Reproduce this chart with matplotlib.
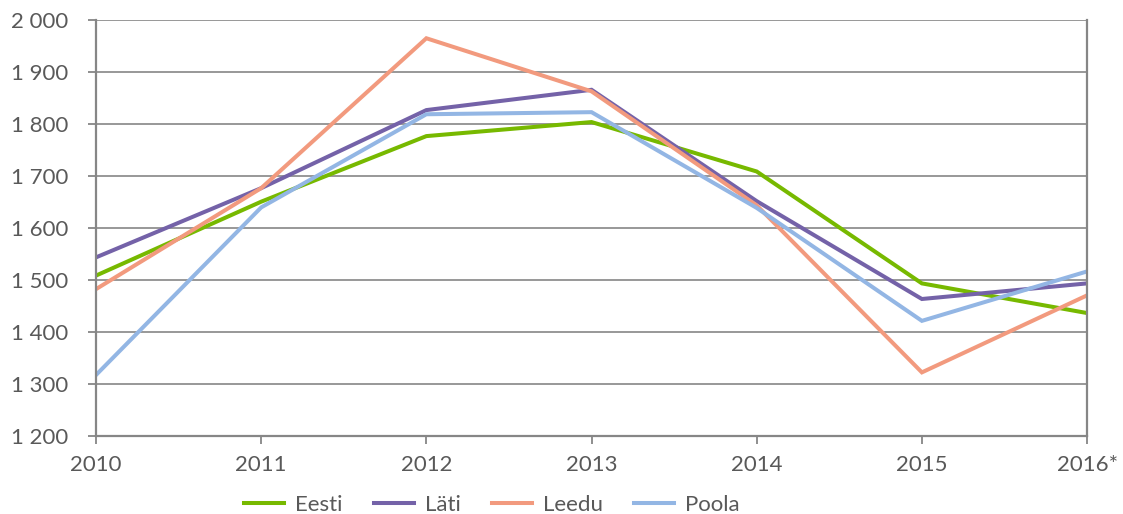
import numpy as np
import matplotlib
matplotlib.use("Agg")
from matplotlib import pyplot as plt
from matplotlib.ticker import FuncFormatter

# years and values per country
years = ["2010", "2011", "2012", "2013", "2014", "2015", "2016*"]
eesti = [1508, 1650, 1776, 1803, 1708, 1493, 1436]
lati = [1543, 1676, 1826, 1865, 1651, 1463, 1493]
leedu = [1482, 1676, 1964, 1862, 1643, 1322, 1470]
poola = [1317, 1639, 1818, 1822, 1638, 1421, 1516]

names = ["Eesti", "Läti", "Leedu", "Poola"]
colors = ["#77B900", "#7462A8", "#F29A7E", "#93B6E4"]
grey = "#868686"

plt.rcParams['font.family'] = ['Lato', 'DejaVu Sans']

fig = plt.figure(figsize=(11.23, 5.14), dpi=100)
ax = fig.add_axes([0.0855, 0.152, 0.8825, 0.81])

x = np.arange(len(years))
for vals, name, c in zip([eesti, lati, leedu, poola], names, colors):
    ax.plot(x, vals, color=c, lw=2.9, label=name, solid_joinstyle='miter')

ax.set_xlim(0, len(years) - 1)
ax.set_ylim(1200, 2000)
ax.set_xticks(x)
ax.set_xticklabels(years)
ax.set_yticks(np.arange(1200, 2001, 100))
ax.yaxis.set_major_formatter(FuncFormatter(lambda v, p: f"{int(v):,}".replace(",", " ")))

ax.grid(axis='y', color=grey, lw=1.2)
ax.set_axisbelow(True)
for s in ['left', 'bottom', 'right']:
    ax.spines[s].set_color(grey)
    ax.spines[s].set_linewidth(1.6)
ax.spines['top'].set_visible(False)

ax.tick_params(axis='y', length=6, width=1.3, color=grey, labelsize=16,
               labelcolor="#595959", pad=14)
ax.tick_params(axis='x', length=6, width=1.3, color=grey, labelsize=16,
               labelcolor="#595959", pad=8)

fig.legend(loc='center', bbox_to_anchor=(0.438, 0.018), ncol=4, frameon=False,
           fontsize=16, handlelength=1.8, handletextpad=0.5, columnspacing=1.4,
           labelcolor="#595959")

fig.savefig("out.png", dpi=100)
